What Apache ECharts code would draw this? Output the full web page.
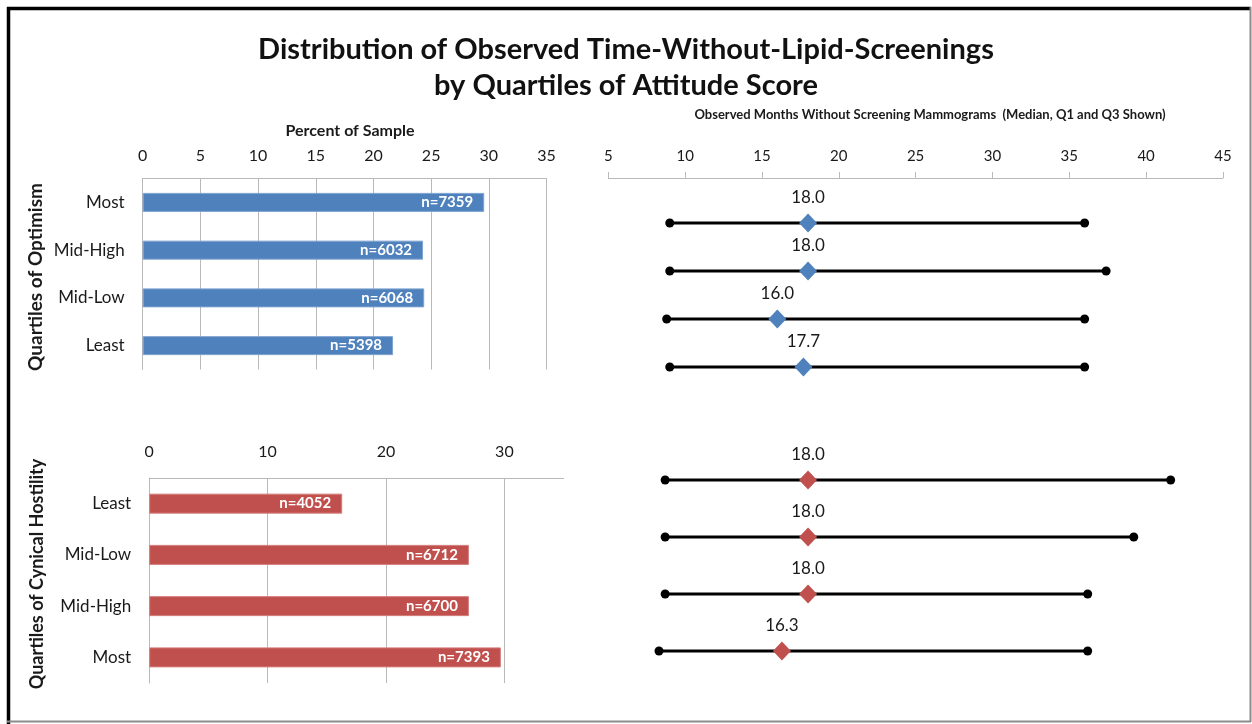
<!DOCTYPE html>
<html>
<head>
<meta charset="utf-8">
<script src="https://cdn.jsdelivr.net/npm/echarts@6/dist/echarts.min.js"></script>
<style>
  html, body { margin: 0; padding: 0; background: #fff; }
  #chart { width: 1252px; height: 724px; }
</style>
</head>
<body>
<div id="chart"></div>
<script>
// quartile labels, top panel reads Most -> Least, bottom panel Least -> Most
var optimismCats = ['Most', 'Mid-High', 'Mid-Low', 'Least'];
var optimismPct = [29.6, 24.3, 24.4, 21.7];
var optimismN = [7359, 6032, 6068, 5398];
var optimismQ1 = [9.0, 9.0, 8.8, 9.0];
var optimismMed = [18.0, 18.0, 16.0, 17.7];
var optimismQ3 = [36.0, 37.4, 36.0, 36.0];

var hostilityCats = ['Least', 'Mid-Low', 'Mid-High', 'Most'];
var hostilityPct = [16.3, 27.0, 27.0, 29.7];
var hostilityN = [4052, 6712, 6700, 7393];
var hostilityQ1 = [8.7, 8.7, 8.7, 8.3];
var hostilityMed = [18.0, 18.0, 18.0, 16.3];
var hostilityQ3 = [41.6, 39.2, 36.2, 36.2];

var FONT = 'Lato, "DejaVu Sans", sans-serif';
var GRID_GRAY = '#b9b9b9';
var TXT = '#1a1a1a';

var chart = echarts.init(document.getElementById('chart'));

// range rows for the custom series: [q1, q3, rowIndex]
var rangeRows = function(q1, q3){
    var out = [];
    for(var i = 0; i < q1.length; i++){
        out.push([q1[i], q3[i], i]);
    }
    return out;
};
var medianRows = function(med){
    var out = [];
    for(var i = 0; i < med.length; i++){
        out.push([med[i], i]);
    }
    return out;
};

var renderRange = function(params, api){
    var a = api.coord([api.value(0), api.value(2)]);
    var b = api.coord([api.value(1), api.value(2)]);
    return {
        type: 'group',
        children: [
            {type: 'line', shape: {x1: a[0], y1: a[1], x2: b[0], y2: b[1]}, style: {stroke: '#000', lineWidth: 3}},
            {type: 'circle', shape: {cx: a[0], cy: a[1], r: 4.5}, style: {fill: '#000'}},
            {type: 'circle', shape: {cx: b[0], cy: b[1], r: 4.5}, style: {fill: '#000'}}
        ]
    };
};

var barLabel = function(nArr){
    return {
        show: true,
        position: 'insideRight',
        distance: 11,
        color: '#fff',
        fontWeight: 'bold',
        fontSize: 15,
        fontFamily: FONT,
        formatter: function(p){ return 'n=' + nArr[p.dataIndex]; }
    };
};

var medianLabel = {
    show: true,
    position: 'top',
    distance: 7,
    color: TXT,
    fontSize: 17,
    fontFamily: FONT,
    formatter: function(p){ return p.value[0].toFixed(1); }
};

var option = {
    backgroundColor: '#fff',
    animation: false,
    textStyle: {fontFamily: FONT},
    title: {
        text: 'Distribution of Observed Time-Without-Lipid-Screenings\nby Quartiles of Attitude Score',
        left: 'center',
        top: 27,
        textStyle: {fontSize: 29, fontWeight: 'bold', lineHeight: 36, color: '#111', fontFamily: FONT}
    },
    grid: [
        {left: 142.7, top: 178.5, width: 403.8, height: 191},
        {left: 149.2, top: 478, width: 414.4, height: 205},
        {left: 608.3, top: 199, width: 614.6, height: 192},
        {left: 608.3, top: 451.5, width: 614.6, height: 228}
    ],
    xAxis: [
        {
            gridIndex: 0, type: 'value', position: 'top', min: 0, max: 35, interval: 5,
            axisLine: {show: true, lineStyle: {color: GRID_GRAY}},
            axisTick: {show: false},
            axisLabel: {margin: 15, fontSize: 16, color: TXT},
            splitLine: {show: true, lineStyle: {color: GRID_GRAY}}
        },
        {
            gridIndex: 1, type: 'value', position: 'top', min: 0, max: 35, interval: 10,
            axisLine: {show: true, lineStyle: {color: GRID_GRAY}},
            axisTick: {show: false},
            axisLabel: {margin: 18, fontSize: 16, color: TXT, showMaxLabel: false},
            splitLine: {show: true, showMaxLine: false, lineStyle: {color: GRID_GRAY}}
        },
        {
            gridIndex: 2, type: 'value', position: 'top', offset: 21, min: 5, max: 45, interval: 5,
            axisLine: {show: true, lineStyle: {color: GRID_GRAY}},
            axisTick: {show: true, length: 6, lineStyle: {color: GRID_GRAY}},
            axisLabel: {margin: 14, fontSize: 15, color: TXT},
            splitLine: {show: false}
        },
        {gridIndex: 3, type: 'value', min: 5, max: 45, show: false}
    ],
    yAxis: [
        {
            gridIndex: 0, type: 'category', inverse: true, data: optimismCats,
            axisLine: {show: true, lineStyle: {color: GRID_GRAY}},
            axisTick: {show: false},
            axisLabel: {margin: 18, fontSize: 17, color: TXT}
        },
        {
            gridIndex: 1, type: 'category', inverse: true, data: hostilityCats,
            axisLine: {show: true, lineStyle: {color: GRID_GRAY}},
            axisTick: {show: false},
            axisLabel: {margin: 18, fontSize: 17, color: TXT}
        },
        {gridIndex: 2, type: 'category', inverse: true, data: optimismCats, show: false},
        {gridIndex: 3, type: 'category', inverse: true, data: hostilityCats, show: false}
    ],
    graphic: [
        {type: 'text', x: 350, y: 131, style: {text: 'Percent of Sample', font: 'bold 16px ' + FONT, fill: TXT, textAlign: 'center', textVerticalAlign: 'middle'}},
        {type: 'text', x: 930, y: 115, style: {text: 'Observed Months Without Screening Mammograms  (Median, Q1 and Q3 Shown)', font: 'bold 13px ' + FONT, fill: TXT, textAlign: 'center', textVerticalAlign: 'middle'}},
        {type: 'text', x: 36, y: 277, rotation: Math.PI / 2, style: {text: 'Quartiles of Optimism', font: 'bold 19px ' + FONT, fill: TXT, textAlign: 'center', textVerticalAlign: 'middle'}},
        {type: 'text', x: 37, y: 574, rotation: Math.PI / 2, style: {text: 'Quartiles of Cynical Hostility', font: 'bold 18px ' + FONT, fill: TXT, textAlign: 'center', textVerticalAlign: 'middle'}},
        // frame: heavy black top/left, thin grey right/bottom
        {type: 'line', shape: {x1: 8.5, y1: 7, x2: 8.5, y2: 724}, style: {stroke: '#000', lineWidth: 3.5}},
        {type: 'line', shape: {x1: 7, y1: 8.5, x2: 1251, y2: 8.5}, style: {stroke: '#000', lineWidth: 3.5}},
        {type: 'line', shape: {x1: 1250.5, y1: 7, x2: 1250.5, y2: 722}, style: {stroke: '#8c8c8c', lineWidth: 2}},
        {type: 'line', shape: {x1: 7, y1: 721.5, x2: 1251, y2: 721.5}, style: {stroke: '#8c8c8c', lineWidth: 2}}
    ],
    series: [
        {
            type: 'bar', xAxisIndex: 0, yAxisIndex: 0, data: optimismPct, barWidth: 19,
            itemStyle: {color: '#4F81BD', borderColor: '#7ea3d0', borderWidth: 1},
            label: barLabel(optimismN)
        },
        {
            type: 'bar', xAxisIndex: 1, yAxisIndex: 1, data: hostilityPct, barWidth: 20,
            itemStyle: {color: '#C0504D', borderColor: '#d47d7b', borderWidth: 1},
            label: barLabel(hostilityN)
        },
        {
            type: 'custom', xAxisIndex: 2, yAxisIndex: 2, renderItem: renderRange,
            encode: {x: [0, 1], y: 2}, data: rangeRows(optimismQ1, optimismQ3), z: 2
        },
        {
            type: 'custom', xAxisIndex: 3, yAxisIndex: 3, renderItem: renderRange,
            encode: {x: [0, 1], y: 2}, data: rangeRows(hostilityQ1, hostilityQ3), z: 2
        },
        {
            type: 'scatter', xAxisIndex: 2, yAxisIndex: 2, symbol: 'diamond', symbolSize: [18, 19],
            itemStyle: {color: '#4F81BD', opacity: 1}, data: medianRows(optimismMed), label: medianLabel, z: 5
        },
        {
            type: 'scatter', xAxisIndex: 3, yAxisIndex: 3, symbol: 'diamond', symbolSize: [18, 19],
            itemStyle: {color: '#C0504D', opacity: 1}, data: medianRows(hostilityMed), label: medianLabel, z: 5
        }
    ]
};

chart.setOption(option);
</script>
</body>
</html>
